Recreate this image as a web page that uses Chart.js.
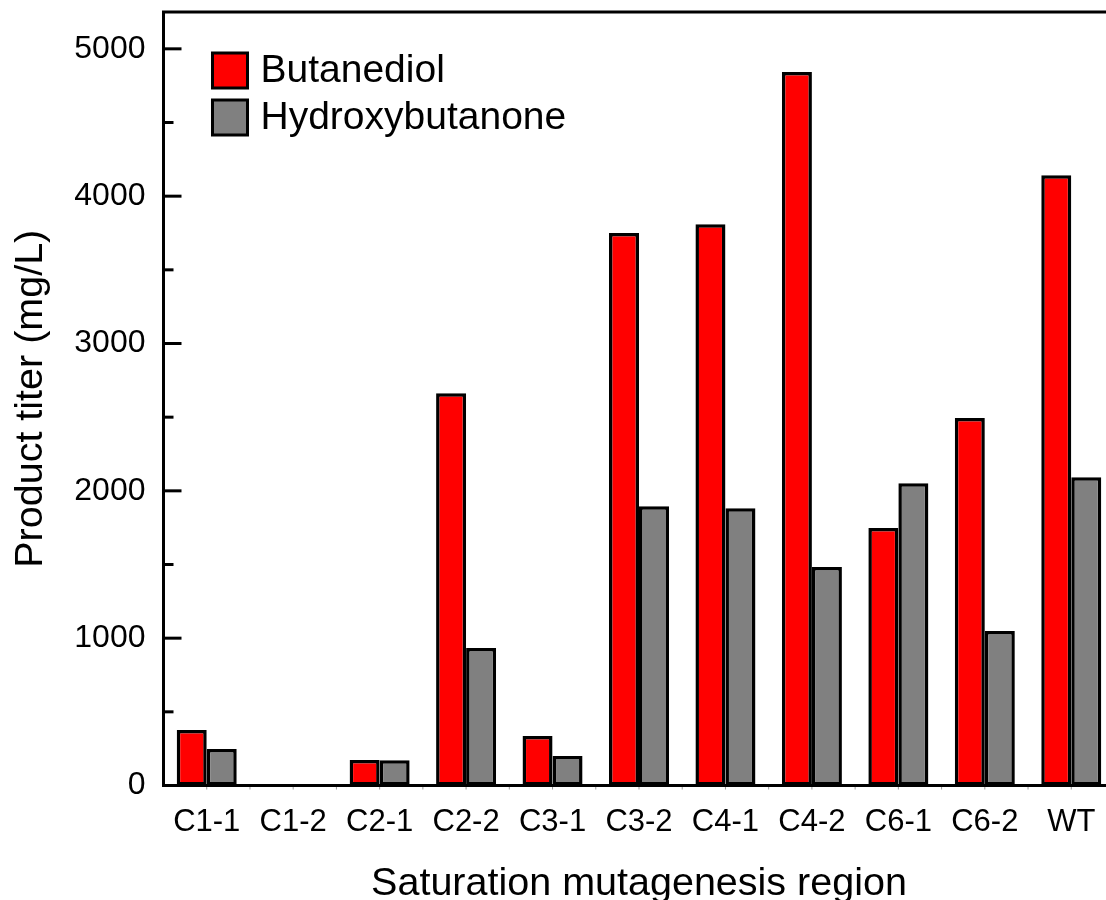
<!DOCTYPE html>
<html><head><meta charset="utf-8">
<script src="https://cdn.jsdelivr.net/npm/chart.js@4.4.1/dist/chart.umd.min.js"></script>
<style>html,body{margin:0;padding:0;background:#fff;overflow:hidden;width:1106px;height:900px}canvas{display:block}</style>
</head><body>
<canvas id="c" width="1130" height="900"></canvas>
<script>
const categories = ['C1-1','C1-2','C2-1','C2-2','C3-1','C3-2','C4-1','C4-2','C6-1','C6-2','WT'];
const butanediol = [376, 0, 173, 2663, 336, 3750, 3809, 4843, 1747, 2495, 4142];
const hydroxybutanone = [247, 0, 171, 933, 200, 1896, 1882, 1483, 2052, 1048, 2093];
const yTickValues = [0, 500, 1000, 1500, 2000, 2500, 3000, 3500, 4000, 4500, 5000];
const yMax = 5250;

const FONT = "'Liberation Sans', Arial, sans-serif";

const framePlugin = {
  id: 'frame',
  afterDatasetsDraw(chart) {
    const {ctx, chartArea: a, scales: {x, y}} = chart;
    ctx.save();
    // minor x ticks (category centers and boundaries)
    ctx.strokeStyle = '#9a9a9a';
    ctx.lineWidth = 1;
    const half = (x.getPixelForValue(1) - x.getPixelForValue(0)) / 2;
    for (let i = 0; i < categories.length; i++) {
      const c = x.getPixelForValue(i);
      [c, c + half].forEach(px => {
        ctx.beginPath(); ctx.moveTo(px, a.bottom); ctx.lineTo(px, a.bottom + 4); ctx.stroke();
      });
    }
    // y ticks inward
    ctx.strokeStyle = '#000';
    ctx.lineWidth = 3;
    y.ticks.forEach(t => {
      const py = y.getPixelForValue(t.value);
      const len = t.value % 1000 === 0 ? 18 : 10;
      ctx.beginPath(); ctx.moveTo(a.left, py); ctx.lineTo(a.left + len, py); ctx.stroke();
    });
    ctx.lineWidth = 3;
    ctx.strokeRect(a.left, a.top, a.right - a.left, a.bottom - a.top);
    // legend
    const items = chart.data.datasets;
    ctx.font = '39px ' + FONT;
    ctx.textBaseline = 'middle';
    items.forEach((ds, i) => {
      const bx = a.left + 49, by = a.top + 41 + i * 47, s = 35;
      ctx.fillStyle = ds.backgroundColor;
      ctx.fillRect(bx, by, s, s);
      ctx.lineWidth = 3;
      ctx.strokeStyle = '#000';
      ctx.strokeRect(bx, by, s, s);
      ctx.fillStyle = '#000';
      ctx.fillText(ds.label, bx + 48, by + s / 2 + 1);
    });
    ctx.restore();
  }
};

new Chart(document.getElementById('c'), {
  type: 'bar',
  data: {
    labels: categories,
    datasets: [
      {label: 'Butanediol', data: butanediol, backgroundColor: '#FF0000', borderColor: '#000', borderWidth: 3.5, borderSkipped: false},
      {label: 'Hydroxybutanone', data: hydroxybutanone, backgroundColor: '#808080', borderColor: '#000', borderWidth: 3.5, borderSkipped: false}
    ]
  },
  options: {
    responsive: false,
    animation: false,
    devicePixelRatio: 1,
    layout: {padding: {top: 12, right: 15.5, left: 0, bottom: 0}},
    plugins: {legend: {display: false}, tooltip: {enabled: false}},
    datasets: {bar: {categoryPercentage: 0.694, barPercentage: 1}},
    scales: {
      x: {
        grid: {display: false, drawTicks: false},
        border: {display: false},
        ticks: {color: '#000', font: {family: FONT, size: 31}, padding: 18, maxRotation: 0, autoSkip: false},
        title: {display: true, text: 'Saturation mutagenesis region', color: '#000', font: {family: FONT, size: 39.5, lineHeight: 1}, padding: {top: 0, bottom: -4}},
        afterFit(s) { s.height = 114.5; s.paddingLeft = 0; s.paddingRight = 0; }
      },
      y: {
        min: 0, max: yMax,
        grid: {display: false, drawTicks: false},
        border: {display: false},
        afterBuildTicks(s) { s.ticks = yTickValues.map(v => ({value: v})); },
        ticks: {color: '#000', font: {family: FONT, size: 32}, padding: 18,
          callback: v => (v % 1000 === 0 ? String(v) : '')},
        title: {display: true, text: 'Product titer (mg/L)', color: '#000', font: {family: FONT, size: 39.5, lineHeight: 1}, padding: {top: 11, bottom: 0}},
        afterFit(s) { s.width = 163.5; s.paddingTop = 0; s.paddingBottom = 0; }
      }
    }
  },
  plugins: [framePlugin]
});
</script>
</body></html>
